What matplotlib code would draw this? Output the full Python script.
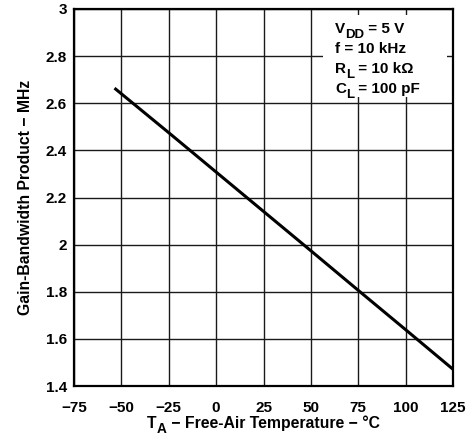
import numpy as np
import matplotlib
matplotlib.use("Agg")
import matplotlib.pyplot as plt
from matplotlib.transforms import IdentityTransform
from matplotlib.patches import Rectangle

# gain-bandwidth product vs free-air temperature
temps = [-53, -25, 0, 25, 50, 75, 100, 125]
gbw = [2.66, 2.475, 2.308, 2.141, 1.974, 1.806, 1.639, 1.471]

x_ticks = [-75, -50, -25, 0, 25, 50, 75, 100, 125]
x_labels = ["\u221275", "\u221250", "\u221225", "0", "25", "50", "75", "100", "125"]
y_ticks = [1.4, 1.6, 1.8, 2.0, 2.2, 2.4, 2.6, 2.8, 3.0]
y_labels = ["1.4", "1.6", "1.8", "2", "2.2", "2.4", "2.6", "2.8", "3"]

# (text, is_subscript) pieces
conditions = [
    [("V", False), ("DD", True), (" = 5 V", False)],
    [("f = 10 kHz", False)],
    [("R", False), ("L", True), (" = 10 k\u03a9", False)],
    [("C", False), ("L", True), (" = 100 pF", False)],
]
x_title = [("T", False), ("A", True), (" \u2212 Free-Air Temperature \u2212 \u00b0C", False)]
y_title = "Gain-Bandwidth Product \u2212 MHz"

plt.rcParams["font.family"] = ["Liberation Sans", "DejaVu Sans"]
plt.rcParams["font.weight"] = "bold"

W, H = 467, 442
fig = plt.figure(figsize=(W / 100, H / 100), dpi=100)
ax = fig.add_axes([74 / W, 1 - 386 / H, 379 / W, 377 / H])
renderer = fig.canvas.get_renderer()


def draw_pieces(pieces, x, y, size, sub_size, drop, center=False):
    # x, y in display pixels (baseline); subscripts smaller and lowered
    texts = []
    cx = x
    for s, is_sub in pieces:
        t = fig.text(cx, y - drop if is_sub else y, s, transform=IdentityTransform(),
                     fontsize=sub_size if is_sub else size, fontweight="bold",
                     ha="left", va="baseline", zorder=5)
        cx += t.get_window_extent(renderer).width
        texts.append(t)
    if center:
        shift = (cx - x) / 2
        for t in texts:
            px, py = t.get_position()
            t.set_position((px - shift, py))
    return texts


ax.plot(temps, gbw, color="black", lw=2.2, zorder=3)

ax.set_xlim(-75, 125)
ax.set_ylim(1.4, 3.0)
ax.set_xticks(x_ticks)
ax.set_xticklabels(x_labels, fontsize=11, fontweight="bold")
ax.set_yticks(y_ticks)
ax.set_yticklabels(y_labels, fontsize=11, fontweight="bold")
ax.tick_params(length=0)
ax.tick_params(axis="x", pad=11)
ax.tick_params(axis="y", pad=5)
ax.grid(True, color="#1a1a1a", lw=1.0)
ax.set_axisbelow(True)
for s in ax.spines.values():
    s.set_linewidth(1.6)
    s.set_zorder(6)

ax.set_ylabel(y_title, fontsize=11.3, fontweight="bold", labelpad=9)

# white panel behind the test conditions
ax.add_patch(Rectangle((0.657, 0.767), 0.327, 0.217, transform=ax.transAxes,
                       facecolor="white", edgecolor="none", zorder=4))
for i, line in enumerate(conditions):
    draw_pieces(line, 335, H - (33 + 20 * i), 11, 9.5, 5)

draw_pieces(x_title, 263.5, H - 428, 11.3, 9.8, 5, center=True)

fig.savefig("out.png", dpi=100)
